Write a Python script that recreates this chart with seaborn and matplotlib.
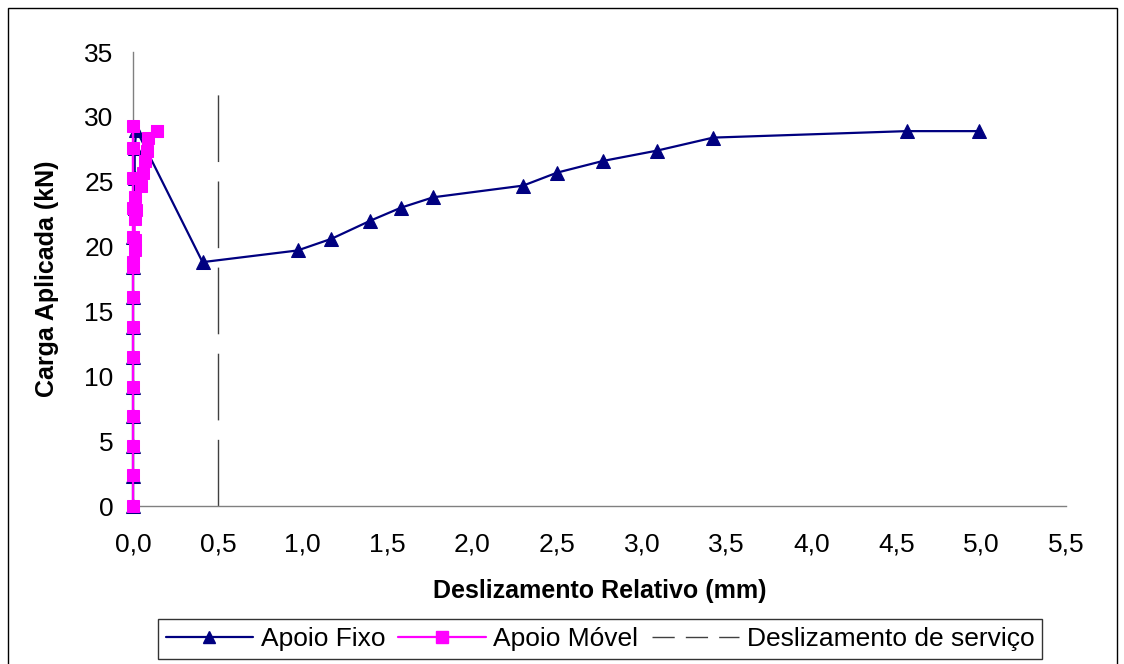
import matplotlib
matplotlib.use("Agg")
import matplotlib.pyplot as plt
import seaborn as sns
import pandas as pd
from matplotlib.patches import Rectangle
from matplotlib.lines import Line2D

# Load-slip data (kN vs mm)
fixo_slip = [0.00, 0.00, 0.00, 0.00, 0.00, 0.00, 0.00, 0.00, 0.00, 0.00, 0.01, 0.01, 0.01, 0.02,
             0.41, 0.97, 1.17, 1.40, 1.58, 1.77, 2.30, 2.50, 2.77, 3.09, 3.42, 4.56, 4.99]
fixo_load = [0.0, 2.3, 4.6, 6.9, 9.2, 11.5, 13.8, 16.1, 18.4, 20.7, 23.0, 25.3, 27.6, 29.0,
             18.8, 19.7, 20.6, 22.0, 23.0, 23.8, 24.7, 25.7, 26.6, 27.4, 28.4, 28.9, 28.9]

movel_slip = [0.00, 0.00, 0.00, 0.00, 0.00, 0.00, 0.00, 0.00, 0.00, 0.00, 0.00, 0.00, 0.00, 0.00,
              0.00, 0.01, 0.01, 0.01, 0.02, 0.01, 0.05, 0.06, 0.07, 0.08, 0.09, 0.14, 0.14]
movel_load = [0.0, 2.4, 4.6, 6.9, 9.2, 11.5, 13.8, 16.1, 18.4, 20.7, 23.0, 25.3, 27.6, 29.3,
              18.8, 19.7, 20.5, 22.1, 22.8, 23.8, 24.7, 25.7, 26.6, 27.4, 28.4, 28.9, 28.9]

servico_slip = [0.5, 0.5]
servico_load = [0.0, 32.0]

x_ticks = [0.0, 0.5, 1.0, 1.5, 2.0, 2.5, 3.0, 3.5, 4.0, 4.5, 5.0, 5.5]
x_ticklabels = ["0,0", "0,5", "1,0", "1,5", "2,0", "2,5", "3,0", "3,5", "4,0", "4,5", "5,0", "5,5"]
y_ticks = [0, 5, 10, 15, 20, 25, 30, 35]

sns.set_style("white")
plt.rcParams["font.family"] = ["Liberation Sans", "DejaVu Sans"]
plt.rcParams["text.color"] = "black"
plt.rcParams["axes.labelcolor"] = "black"

NAVY = "#000080"
MAGENTA = "#FF00FF"

fig = plt.figure(figsize=(11.24, 6.64), dpi=100)
ax = fig.add_axes([133 / 1124, 1 - 506 / 664, (1066 - 133) / 1124, (506 - 52) / 664])

df_fixo = pd.DataFrame({"slip": fixo_slip, "load": fixo_load})
df_movel = pd.DataFrame({"slip": movel_slip, "load": movel_load})
df_serv = pd.DataFrame({"slip": servico_slip, "load": servico_load})

sns.lineplot(data=df_serv, x="slip", y="load", ax=ax, sort=False, estimator=None,
             color="#404040", linewidth=1.0, zorder=1)
ax.lines[-1].set_dashes([48, 14])

sns.lineplot(data=df_fixo, x="slip", y="load", ax=ax, sort=False, estimator=None,
             color=NAVY, linewidth=1.6, marker="^", markersize=10,
             markeredgecolor=NAVY, markerfacecolor=NAVY, zorder=3, clip_on=False)
sns.lineplot(data=df_movel, x="slip", y="load", ax=ax, sort=False, estimator=None,
             color=MAGENTA, linewidth=1.6, marker="s", markersize=9,
             markeredgecolor=MAGENTA, markerfacecolor=MAGENTA, zorder=4, clip_on=False)

ax.set_xlim(0, 5.5)
ax.set_ylim(0, 35)
ax.set_xticks(x_ticks)
ax.set_xticklabels(x_ticklabels)
ax.set_yticks(y_ticks)

for side in ("top", "right"):
    ax.spines[side].set_visible(False)
for side in ("left", "bottom"):
    ax.spines[side].set_color("#808080")
    ax.spines[side].set_linewidth(1.0)
    ax.spines[side].set_zorder(2)
ax.tick_params(axis="both", which="major", direction="out", length=6, width=1,
               color="#808080", labelsize=19, labelcolor="black")
ax.tick_params(axis="x", pad=13)
ax.tick_params(axis="y", pad=8)

ax.set_xlabel("Deslizamento Relativo (mm)", fontsize=18, fontweight="bold", labelpad=16)
ax.set_ylabel("Carga Aplicada (kN)", fontsize=18, fontweight="bold", labelpad=18)

handles = [
    Line2D([], [], color=NAVY, linewidth=1.6, marker="^", markersize=9),
    Line2D([], [], color=MAGENTA, linewidth=1.6, marker="s", markersize=8),
    Line2D([], [], color="#404040", linewidth=1.0, dashes=[16, 8]),
]
labels = ["Apoio Fixo", "Apoio Móvel", "Deslizamento de serviço"]
leg = fig.legend(handles, labels, loc="center", bbox_to_anchor=(600 / 1124, 1 - 639 / 664),
                 ncol=3, fontsize=19, frameon=True, fancybox=False, edgecolor="black",
                 handlelength=3.3, handletextpad=0.3, columnspacing=0.5,
                 borderpad=0.3, borderaxespad=0)
leg.get_frame().set_linewidth(1.0)

# outer chart border
fig.add_artist(Rectangle((8 / 1124, -0.01), (1117 - 8) / 1124, 1 - 8 / 664 + 0.01,
                         transform=fig.transFigure, fill=False, edgecolor="black",
                         linewidth=1.0, zorder=0))

fig.savefig("out.png", dpi=100)
